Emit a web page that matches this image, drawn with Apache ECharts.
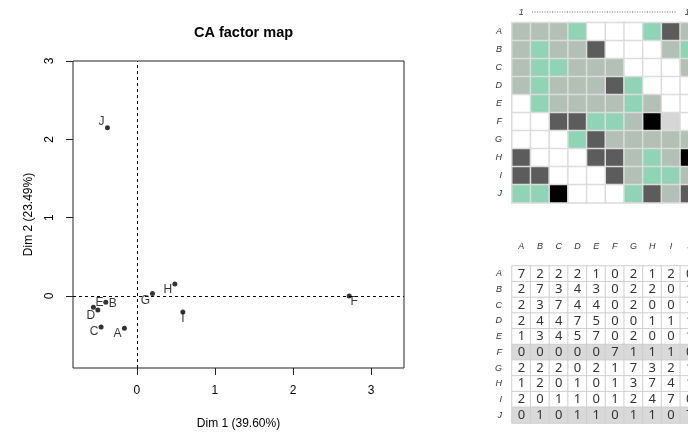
<!DOCTYPE html>
<html>
<head>
<meta charset="utf-8">
<script src="https://cdn.jsdelivr.net/npm/echarts@6/dist/echarts.min.js"></script>
<style>html,body{margin:0;padding:0;background:#fff}#c{width:688px;height:434px}</style>
</head>
<body>
<div id="c"></div>
<script>
// ---- data ----
const categories = ['A','B','C','D','E','F','G','H','I','J'];
const dim1 = [-0.159, -0.397, -0.457, -0.499, -0.556, 2.718, 0.200, 0.487, 0.589, -0.376];
const dim2 = [-0.413, -0.080, -0.396, -0.179, -0.144, 0.000, 0.030, 0.153, -0.204, 2.149];
const xTicks = [0, 1, 2, 3];
const yTicks = [0, 1, 2, 3];
const heatCols = ['1','2','3','4','5','6','7','8','9','10'];
// heatmap codes: 0 white, 1 grey, 2 mint, 3 dark, 4 black, 5 light grey
const heatRows = [
  [1,1,1,2,0,0,0,2,3,1],
  [1,2,1,1,3,0,0,0,1,2],
  [1,2,2,1,1,1,0,0,0,1],
  [1,2,1,1,1,3,2,0,0,0],
  [0,2,1,1,1,1,2,1,0,0],
  [0,0,3,3,2,2,1,4,5,0],
  [0,0,0,2,3,1,1,1,1,1],
  [3,0,0,0,3,3,1,2,1,4],
  [3,3,0,0,0,3,1,2,2,1],
  [2,2,4,0,0,0,2,3,1,3]
];
const tableRows = [
  [7,2,2,2,1,0,2,1,2,0],
  [2,7,3,4,3,0,2,2,0,1],
  [2,3,7,4,4,0,2,0,0,1],
  [2,4,4,7,5,0,0,1,1,1],
  [1,3,4,5,7,0,2,0,0,1],
  [0,0,0,0,0,7,1,1,1,0],
  [2,2,2,0,2,1,7,3,2,1],
  [1,2,0,1,0,1,3,7,4,1],
  [2,0,1,1,0,1,2,4,7,0],
  [0,1,0,1,1,0,1,1,0,7]
];
const highlightRows = ['F','J'];

// ---- styles ----
const heatPalette = ['#ffffff','#b3c0b6','#8fd4b4','#5c5c5c','#000000','#d6d6d6'];
const labelOffsets = {A:[-7,5],B:[7,1],C:[-7,5],D:[-7,6],E:[6,-5],F:[5,6],G:[-7,7],H:[-7,6],I:[0,7],J:[-6,-6]};
const FONT = 'Liberation Sans, Arial, sans-serif';

const scatterData = categories.map((c,i)=>({
  name:c, value:[dim1[i], dim2[i]],
  label:{offset: labelOffsets[c]}
}));

const heatData = [];
heatRows.forEach((row,r)=>row.forEach((v,c)=>{
  heatData.push({value:[c,r,v], itemStyle:{color:heatPalette[v]}});
}));
const tableData = [];
tableRows.forEach((row,r)=>row.forEach((v,c)=>{
  tableData.push({value:[c,r,v], itemStyle:{color: highlightRows.includes(categories[r]) ? '#d9d9d9' : '#ffffff'}});
}));

const chart = echarts.init(document.getElementById('c'), null, {renderer:'canvas'});
chart.setOption({
  animation:false,
  backgroundColor:'#fff',
  title:{text:'CA factor map', left:238.5, top:20, textAlign:'center',
    textStyle:{fontFamily:FONT, fontSize:14.5, fontWeight:'bold', color:'#000'}},
  graphic:[
    {type:'line', shape:{x1:532,y1:12,x2:677,y2:12}, style:{stroke:'#666', lineWidth:1, lineDash:[1,1.5]}}
  ],
  grid:[
    {left:73, top:61, width:331, height:307, show:true, borderColor:'#222', borderWidth:1, containLabel:false, outerBoundsMode:'none'},
    {left:512, top:22.7, width:187, height:180, containLabel:false, outerBoundsMode:'none'},
    {left:512, top:266, width:187, height:157, containLabel:false, outerBoundsMode:'none'}
  ],
  xAxis:[
    {gridIndex:0, type:'value', min:-0.817, max:3.42,
      name:'Dim 1 (39.60%)', nameLocation:'middle', nameGap:50,
      nameTextStyle:{fontFamily:FONT, fontSize:12, color:'#000'},
      axisLine:{show:false, onZero:false}, splitLine:{show:false},
      axisTick:{show:true, length:7, customValues:xTicks, lineStyle:{color:'#222'}},
      axisLabel:{customValues:xTicks, margin:17, fontFamily:FONT, fontSize:12, color:'#000'}},
    {gridIndex:1, type:'category', data:heatCols, position:'top',
      axisLine:{show:false}, axisTick:{show:false}, splitLine:{show:false},
      axisLabel:{interval:0, margin:6, fontFamily:FONT, fontSize:9, fontStyle:'italic', color:'#333',
        formatter:(v,i)=> (i===0 || i===heatCols.length-1) ? v : ''}},
    {gridIndex:2, type:'category', data:categories, position:'top',
      axisLine:{show:false}, axisTick:{show:false}, splitLine:{show:false},
      axisLabel:{interval:0, margin:15, fontFamily:FONT, fontSize:9, fontStyle:'italic', color:'#333'}}
  ],
  yAxis:[
    {gridIndex:0, type:'value', min:-0.92, max:3.0,
      name:'Dim 2 (23.49%)', nameLocation:'middle', nameGap:38,
      nameTextStyle:{fontFamily:FONT, fontSize:12, color:'#000'},
      axisLine:{show:false, onZero:false}, splitLine:{show:false},
      axisTick:{show:true, length:7, customValues:yTicks, lineStyle:{color:'#222'}},
      axisLabel:{customValues:yTicks, margin:17, rotate:90, fontFamily:FONT, fontSize:12, color:'#000'}},
    {gridIndex:1, type:'category', data:categories, inverse:true,
      axisLine:{show:false}, axisTick:{show:false}, splitLine:{show:false},
      axisLabel:{interval:0, margin:10, fontFamily:FONT, fontSize:9, fontStyle:'italic', color:'#333'}},
    {gridIndex:2, type:'category', data:categories, inverse:true,
      axisLine:{show:false}, axisTick:{show:false}, splitLine:{show:false},
      axisLabel:{interval:0, margin:10, fontFamily:FONT, fontSize:9, fontStyle:'italic', color:'#333'}}
  ],
  series:[
    {type:'scatter', xAxisIndex:0, yAxisIndex:0, symbol:'circle', symbolSize:5,
      itemStyle:{color:'#000'},
      label:{show:true, position:'inside', formatter:'{b}', fontFamily:FONT, fontSize:12, color:'#000'},
      data:scatterData,
      markLine:{silent:true, symbol:'none', label:{show:false},
        lineStyle:{color:'#000', type:[3,3], width:1},
        data:[{xAxis:0},{yAxis:0}]}},
    {type:'heatmap', xAxisIndex:1, yAxisIndex:1, data:heatData,
      itemStyle:{borderColor:'#dcdcdc', borderWidth:1.5},
      label:{show:false}, emphasis:{disabled:true}},
    {type:'heatmap', xAxisIndex:2, yAxisIndex:2, data:tableData,
      itemStyle:{borderColor:'#cfcfcf', borderWidth:1},
      label:{show:true, formatter:p=>String(p.value[2]), fontFamily:'Noto Sans, sans-serif', fontSize:13, color:'#333'},
      emphasis:{disabled:true}}
  ]
});
</script>
</body>
</html>
